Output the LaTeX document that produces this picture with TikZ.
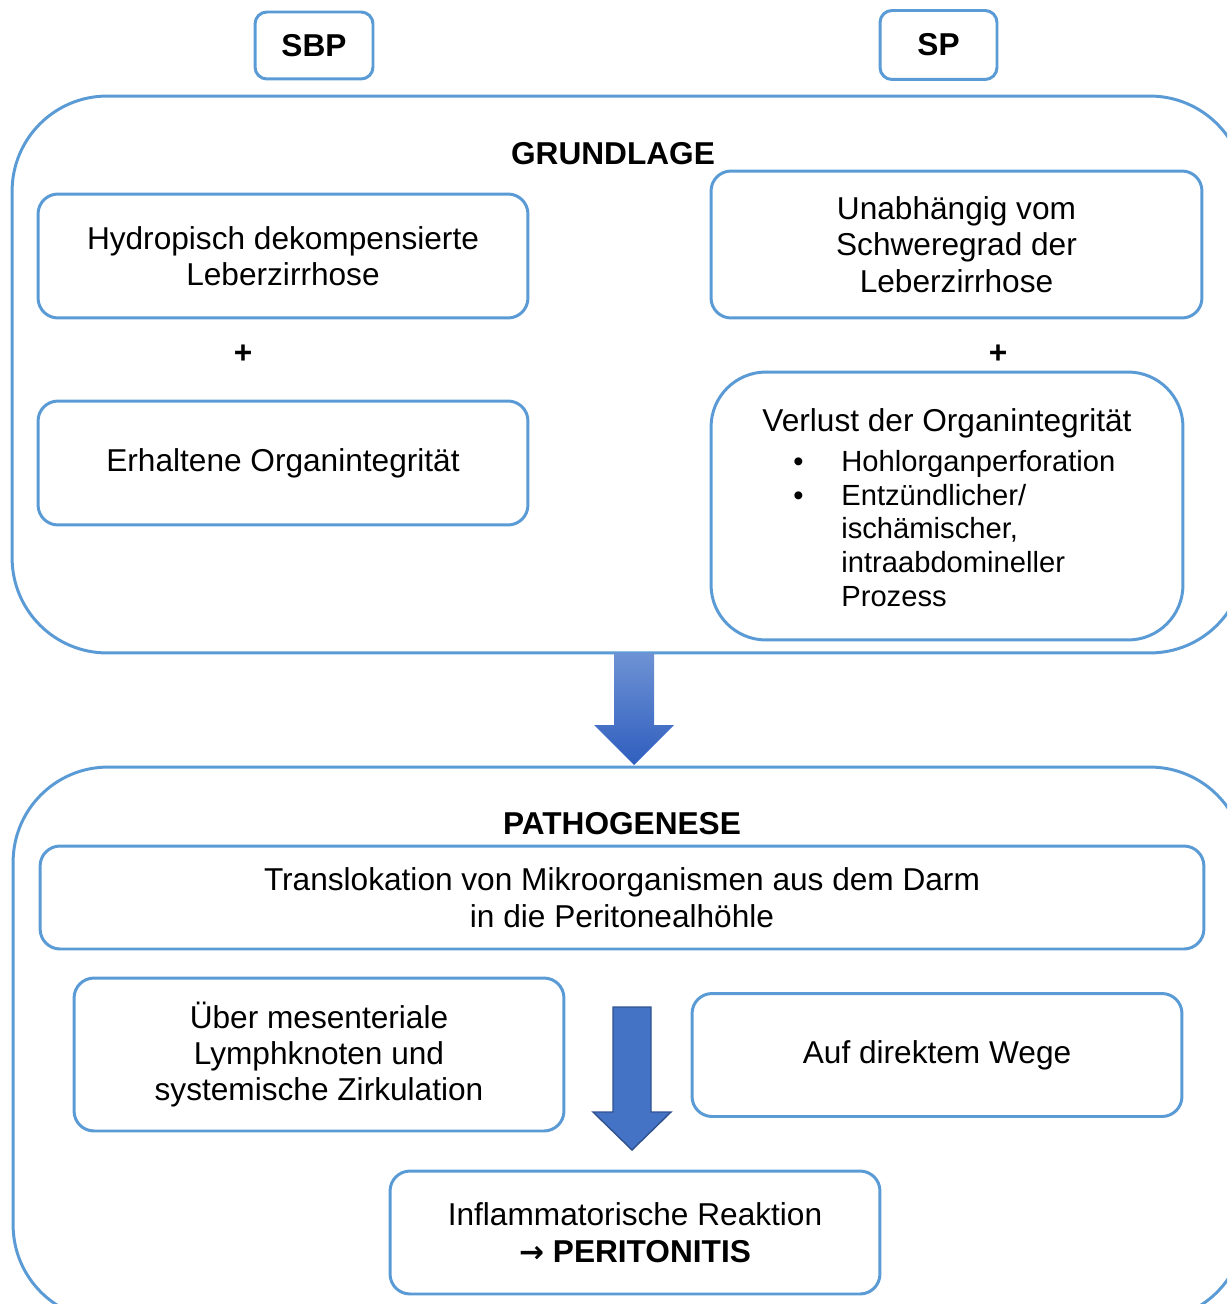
\documentclass[tikz,border=0pt]{standalone}
\usepackage{fontspec}
\setmainfont{Liberation Sans}
\newfontfamily\pfeilfont{DejaVu Sans}
\usetikzlibrary{positioning}

\definecolor{rahmenblau}{HTML}{5B9BD5}
\definecolor{pfeilblau}{HTML}{4472C4}
\definecolor{pfeilrand}{HTML}{2F528F}
\definecolor{pfeilhell}{HTML}{6E92D4}
\definecolor{pfeildunkel}{HTML}{2F5EBE}

\begin{document}
\begin{tikzpicture}
[
	x						= 0.02cm,
	y						= -0.02cm,
	every node/.style		= {font = \fontsize{18}{20.7}\selectfont},
	box/.style				=
	{
		draw				= rahmenblau,
		line width			= 1.7pt,
		rounded corners		= 0.4cm,
		align				= center,
		inner sep			= 0pt,
	},
	bigbox/.style			=
	{
		box,
		rounded corners		= 1.9cm,
	},
	heading/.style			= {font = \fontsize{18}{20.7}\selectfont\bfseries},
]

\useasboundingbox (0,0) rectangle (1227,1304);
\clip (0,0) rectangle (1227,1304);

% titles on top
\node [box, rounded corners = 0.24cm, minimum width = 2.36cm, minimum height = 1.34cm, heading] (sbp) at (314,45.5) {SBP};
\node [box, rounded corners = 0.24cm, minimum width = 2.34cm, minimum height = 1.38cm, heading] (sp) at (938.5,45) {SP};

% GRUNDLAGE
\node [bigbox, minimum width = 24.66cm, minimum height = 11.14cm] (grundlage) at (628.5,374.5) {};
\node [heading] (grundlagetitel) at (613,154) {GRUNDLAGE};

\node [box, minimum width = 9.8cm, minimum height = 2.48cm] (hydropisch) at (283,256)
	{Hydropisch dekompensierte\\Leberzirrhose};
\node [heading] (plusa) at (243,354) {+};
\node [box, minimum width = 9.8cm, minimum height = 2.48cm] (erhalten) at (283,463)
	{Erhaltene Organintegrität};

\node [box, minimum width = 9.82cm, minimum height = 2.94cm] (unabhaengig) at (956.5,244.5)
	{Unabhängig vom\\Schweregrad der\\Leberzirrhose};
\node [heading] (plusb) at (998,354) {+};
\node [box, rounded corners = 1.1cm, minimum width = 9.44cm, minimum height = 5.36cm] (verlust) at (947,506) {};
\node (verlusttitel) at (947,423) {Verlust der Organintegrität};
\node [anchor = north west, inner sep = 0pt, font = \fontsize{16.6}{19.3}\selectfont] (verlustliste) at (793,447)
{%
	\begin{tabular}{@{}p{0.96cm}@{}l@{}}
		• & Hohlorganperforation\\
		• & Entzündlicher/\\
		  & ischämischer,\\
		  & intraabdomineller\\
		  & Prozess
	\end{tabular}%
};

% arrow between the two parts
\shade [top color = pfeilhell, bottom color = pfeildunkel]
	(614,653) -- (654,653) -- (654,725) -- (674,725) -- (634,765) -- (594,725) -- (614,725) -- cycle;

% PATHOGENESE
\node [bigbox, minimum width = 24.64cm, minimum height = 11.06cm] (pathogenese) at (629,1043.5) {};
\node [heading] (pathogenesetitel) at (622,824) {PATHOGENESE};

\node [box, minimum width = 23.28cm, minimum height = 2.06cm] (translokation) at (622,897.5)
	{Translokation von Mikroorganismen aus dem Darm\\in die Peritonealhöhle};
\node [box, minimum width = 9.8cm, minimum height = 3.06cm] (mesenterial) at (319,1054.5)
	{Über mesenteriale\\Lymphknoten und\\systemische Zirkulation};
\node [box, minimum width = 9.8cm, minimum height = 2.46cm] (direkt) at (937,1055)
	{Auf direktem Wege};
\node [box, minimum width = 9.8cm, minimum height = 2.46cm] (inflammation) at (635,1232.5)
	{Inflammatorische Reaktion\\{\bfseries{\pfeilfont\fontsize{17}{20.7}\selectfont →} PERITONITIS}};

\filldraw [fill = pfeilblau, draw = pfeilrand, line width = 0.8pt]
	(613,1007) -- (651,1007) -- (651,1112) -- (671,1112) -- (632,1150) -- (593,1112) -- (613,1112) -- cycle;

\end{tikzpicture}
\end{document}
